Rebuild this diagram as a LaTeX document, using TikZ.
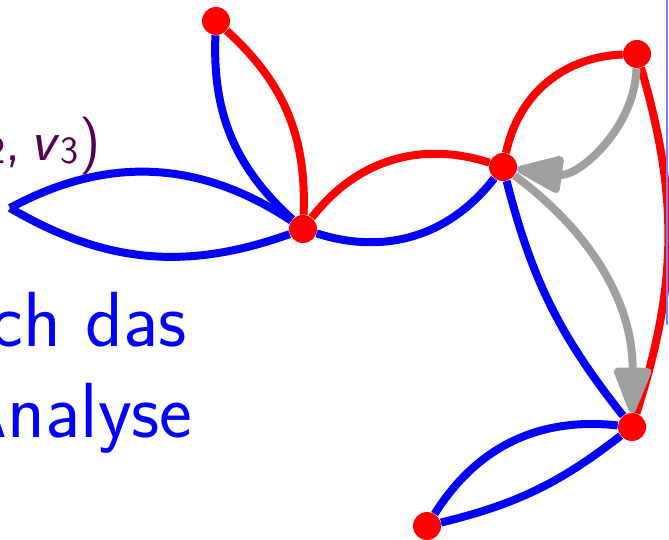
\documentclass[tikz,border=0pt]{standalone}
\usepackage{fontspec}
\usepackage{xcolor}
\usetikzlibrary{arrows.meta,backgrounds}

\definecolor{tupelfarbe}{RGB}{85,0,85}
\definecolor{rahmenfarbe}{RGB}{128,128,255}
\definecolor{pfeilgrau}{RGB}{160,160,160}

\newcommand{\idx}[1]{\raisebox{-0.05em}{\fontsize{22}{24}\selectfont #1}}

\begin{document}
\begin{tikzpicture}[x=0.02cm, y=-0.02cm,
    vtx/.style={circle, fill=red, inner sep=0pt, minimum size=0.56cm},
    bkante/.style={draw=blue, line width=0.16cm},
    rkante/.style={draw=red, line width=0.16cm},
    gpfeil/.style={draw=pfeilgrau, line width=0.16cm,
      -{Triangle[length=1.05cm, width=0.78cm, round]}},
    txt/.style={anchor=base east, inner sep=0pt, font=\sffamily}
  ]
    \useasboundingbox (0,0) rectangle (669,540);

    % Text
    \node[txt, text=tupelfarbe, font=\sffamily\fontsize{33}{38}\selectfont] (tupel)
      at (101,161) {(\textit{v}\idx{1},\hspace{0.17em}\textit{v}\idx{2},\hspace{0.17em}\textit{v}\idx{3}\hspace{0.02em})};
    \node[txt, text=blue, font=\sffamily\fontsize{44.5}{53}\selectfont] (zeile1)
      at (187,347) {ch das};
    \node[txt, text=blue, font=\sffamily\fontsize{44.5}{53}\selectfont] (zeile2)
      at (193,437) {Analyse};

    % Knoten
    \node[vtx] (a) at (216,21)  {};
    \node[vtx] (b) at (303,229) {};
    \node[vtx] (c) at (503,167) {};
    \node[vtx] (d) at (637,54)  {};
    \node[vtx] (e) at (632,427) {};
    \node[vtx] (f) at (427,526) {};
    \coordinate (t) at (10,208);

    % Kanten
    \begin{scope}[on background layer]
      \draw[bkante] (a) to[bend right=25] (b);
      \draw[rkante] (a) to[bend left=25] (b);
      \draw[bkante] (b) to[bend right=31] (t);
      \draw[bkante] (b) to[bend left=25] (t);
      \draw[rkante] (b) to[bend left=35] (c);
      \draw[bkante] (b) to[bend right=35] (c);
      \draw[rkante] (c) to[bend left=38] (d);
      \draw[bkante] (c) to[bend right=12] (e);
      \draw[rkante] (d) to[bend left=17] (e);
      \draw[bkante] (e) to[bend right=32] (f);
      \draw[bkante] (e) to[bend left=12] (f);
      \draw[gpfeil] (d) to[bend left=48] (c);
      \draw[gpfeil] (c) to[bend left=27] (e);
    \end{scope}

    % Rahmen rechts
    \draw[rahmenfarbe, line width=0.04cm] (667,0) -- (667,325);
\end{tikzpicture}
\end{document}
